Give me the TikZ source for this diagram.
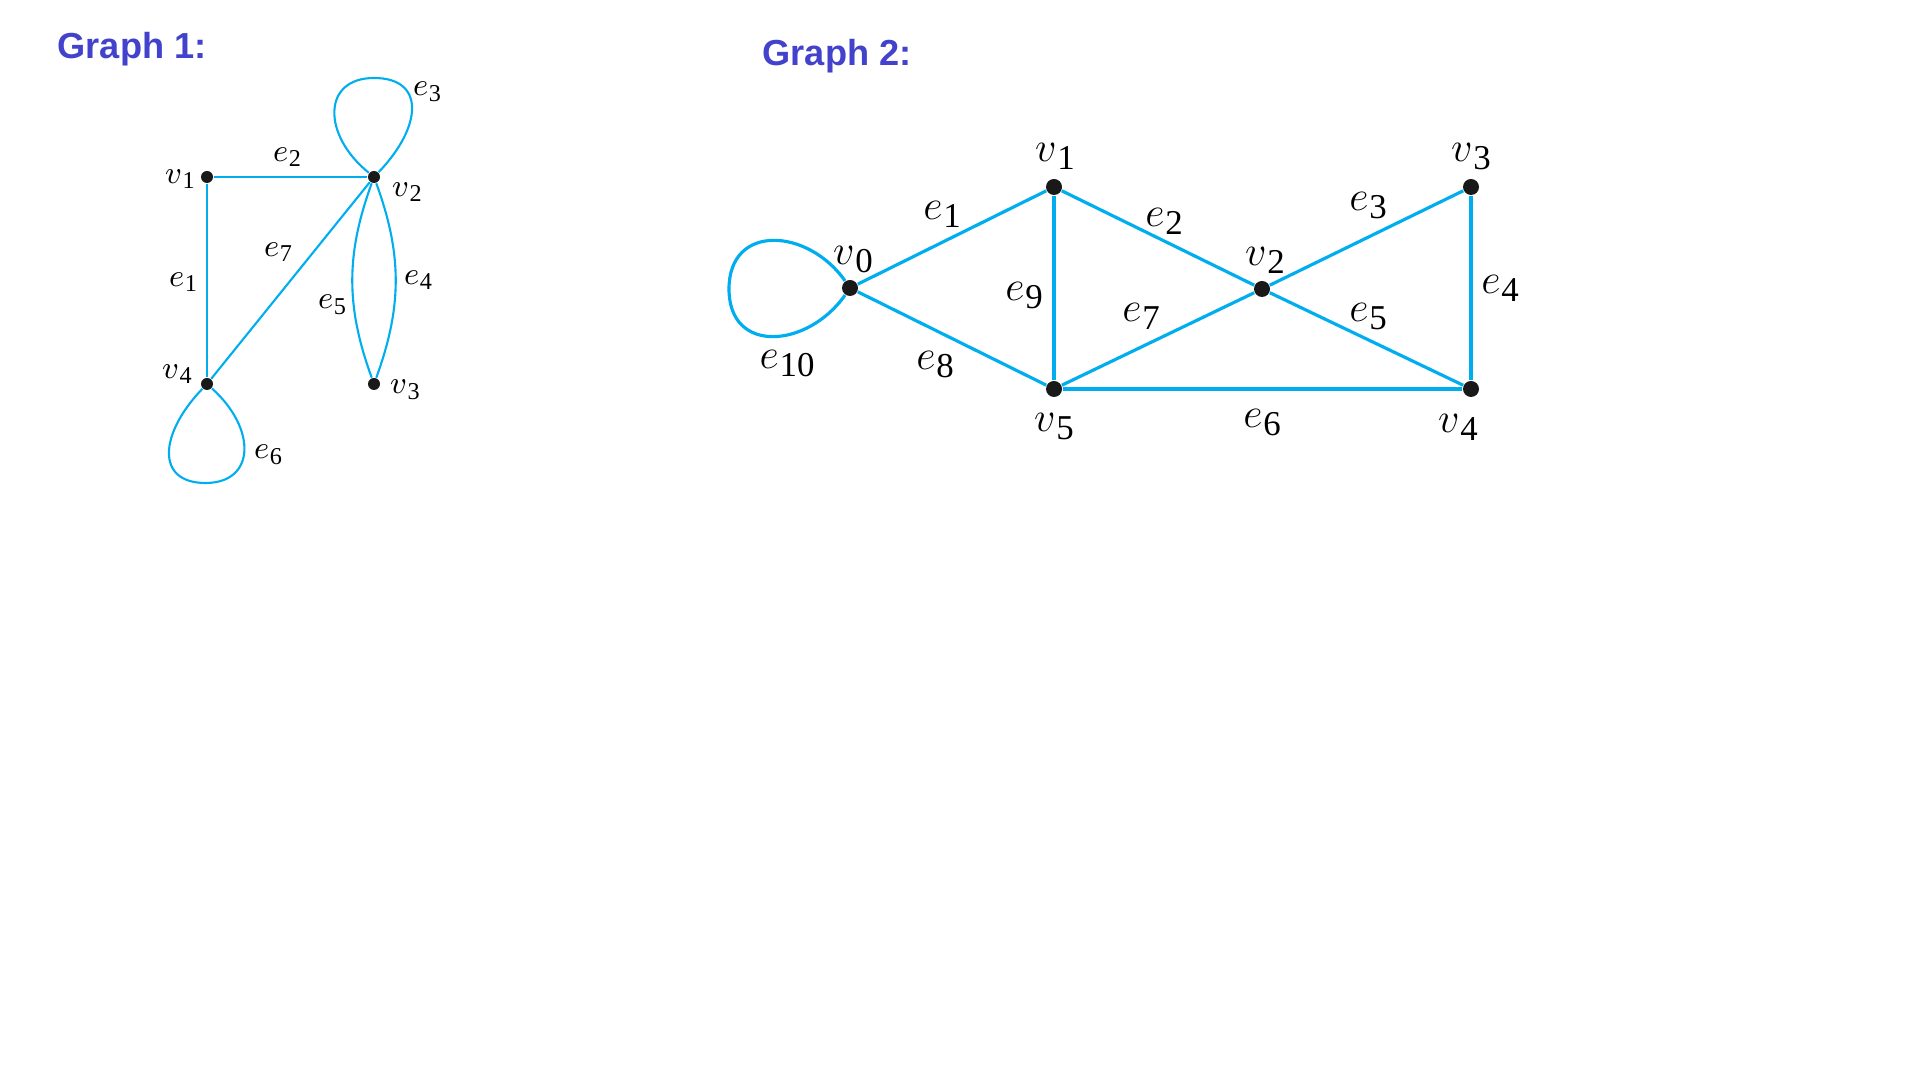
\documentclass[tikz,border=0pt]{standalone}
\usepackage{fontspec}
\setmainfont{Liberation Serif}
\newfontfamily\titlefont{Liberation Sans}
\definecolor{edgeblue}{RGB}{0,174,239}
\definecolor{titleblue}{RGB}{66,66,204}
\newcommand{\vlab}[1]{$v$\kern.02em\raisebox{-.4ex}{\scalebox{.8}{#1}}}
\newcommand{\elab}[1]{$e$\kern.02em\raisebox{-.4ex}{\scalebox{.8}{#1}}}
\begin{document}
\begin{tikzpicture}[dot1/.style={circle, fill=black!90, inner sep=0pt, minimum size=0.12cm}, dot2/.style={circle, fill=black!90, inner sep=0pt, minimum size=0.16cm}, lab1/.style={inner sep=0pt, font=\fontsize{8.6}{10}\selectfont}, lab2/.style={inner sep=0pt, font=\fontsize{12.4}{15}\selectfont}, edge1/.style={draw=edgeblue, line width=0.6pt}, edge2/.style={draw=edgeblue, line width=0.9pt}, heading/.style={anchor=base west, inner sep=0pt, text=titleblue, font=\titlefont\bfseries\fontsize{10.3}{12}\selectfont}]
    \useasboundingbox (0,0) rectangle (19.2,10.8);
    \node[heading] (title1) at (0.57,10.21) {Graph 1:};
    \node[dot1] (a1) at (2.07,9.03) {};
    \node[dot1] (a2) at (3.74,9.03) {};
    \node[dot1] (a3) at (3.74,6.96) {};
    \node[dot1] (a4) at (2.07,6.96) {};
    \coordinate (e3top) at (3.74,10.02);
    \coordinate (e6bot) at (2.055,5.97);
    \draw[edge1] (a1) -- (a2);
    \draw[edge1] (a1) -- (a4);
    \draw[edge1] (a4) -- (a2);
    \draw[edge1] (a2) to[bend left=20] (a3);
    \draw[edge1] (a2) to[bend right=20] (a3);
    \draw[edge1] (a2) .. controls +(-0.52,0.42) and +(-0.52,0) .. (e3top) .. controls +(0.52,0) and +(0.48,0.5) .. (a2);
    \draw[edge1] (a4) .. controls +(-0.48,-0.5) and +(-0.5,0) .. (e6bot) .. controls +(0.5,0) and +(0.5,-0.45) .. (a4);
    \node[lab1] (a1lab) at (1.80,9.01) {\vlab{1}};
    \node[lab1] (a2lab) at (4.07,8.88) {\vlab{2}};
    \node[lab1] (a3lab) at (4.05,6.90) {\vlab{3}};
    \node[lab1] (a4lab) at (1.77,7.06) {\vlab{4}};
    \node[lab1] (ae1) at (1.83,7.98) {\elab{1}};
    \node[lab1] (ae2) at (2.87,9.23) {\elab{2}};
    \node[lab1] (ae3) at (4.27,9.88) {\elab{3}};
    \node[lab1] (ae4) at (4.18,8.00) {\elab{4}};
    \node[lab1] (ae5) at (3.32,7.75) {\elab{5}};
    \node[lab1] (ae6) at (2.68,6.25) {\elab{6}};
    \node[lab1] (ae7) at (2.78,8.28) {\elab{7}};
    \node[heading] (title2) at (7.62,10.14) {Graph 2:};
    \node[dot2] (b0) at (8.50,7.92) {};
    \node[dot2] (b1) at (10.54,8.93) {};
    \node[dot2] (b2) at (12.62,7.91) {};
    \node[dot2] (b3) at (14.71,8.93) {};
    \node[dot2] (b4) at (14.71,6.91) {};
    \node[dot2] (b5) at (10.54,6.91) {};
    \coordinate (e10left) at (7.29,7.91);
    \draw[edge2] (b0) -- (b1);
    \draw[edge2] (b1) -- (b2);
    \draw[edge2] (b2) -- (b3);
    \draw[edge2] (b3) -- (b4);
    \draw[edge2] (b2) -- (b4);
    \draw[edge2] (b5) -- (b4);
    \draw[edge2] (b5) -- (b2);
    \draw[edge2] (b0) -- (b5);
    \draw[edge2] (b1) -- (b5);
    \draw[edge2] (b0) .. controls +(-0.42,0.6) and +(0,0.66) .. (e10left) .. controls +(0,-0.66) and +(-0.42,-0.6) .. (b0);
    \node[lab2] (b0lab) at (8.53,8.20) {\vlab{0}};
    \node[lab2] (b1lab) at (10.55,9.24) {\vlab{1}};
    \node[lab2] (b2lab) at (12.65,8.20) {\vlab{2}};
    \node[lab2] (b3lab) at (14.71,9.23) {\vlab{3}};
    \node[lab2] (b4lab) at (14.58,6.53) {\vlab{4}};
    \node[lab2] (b5lab) at (10.54,6.53) {\vlab{5}};
    \node[lab2] (be1) at (9.42,8.66) {\elab{1}};
    \node[lab2] (be2) at (11.64,8.59) {\elab{2}};
    \node[lab2] (be3) at (13.68,8.74) {\elab{3}};
    \node[lab2] (be4) at (15.00,7.92) {\elab{4}};
    \node[lab2] (be5) at (13.68,7.63) {\elab{5}};
    \node[lab2] (be6) at (12.62,6.57) {\elab{6}};
    \node[lab2] (be7) at (11.41,7.64) {\elab{7}};
    \node[lab2] (be8) at (9.35,7.15) {\elab{8}};
    \node[lab2] (be9) at (10.24,7.84) {\elab{9}};
    \node[lab2] (be10) at (7.87,7.16) {\elab{10}};
\end{tikzpicture}
\end{document}
